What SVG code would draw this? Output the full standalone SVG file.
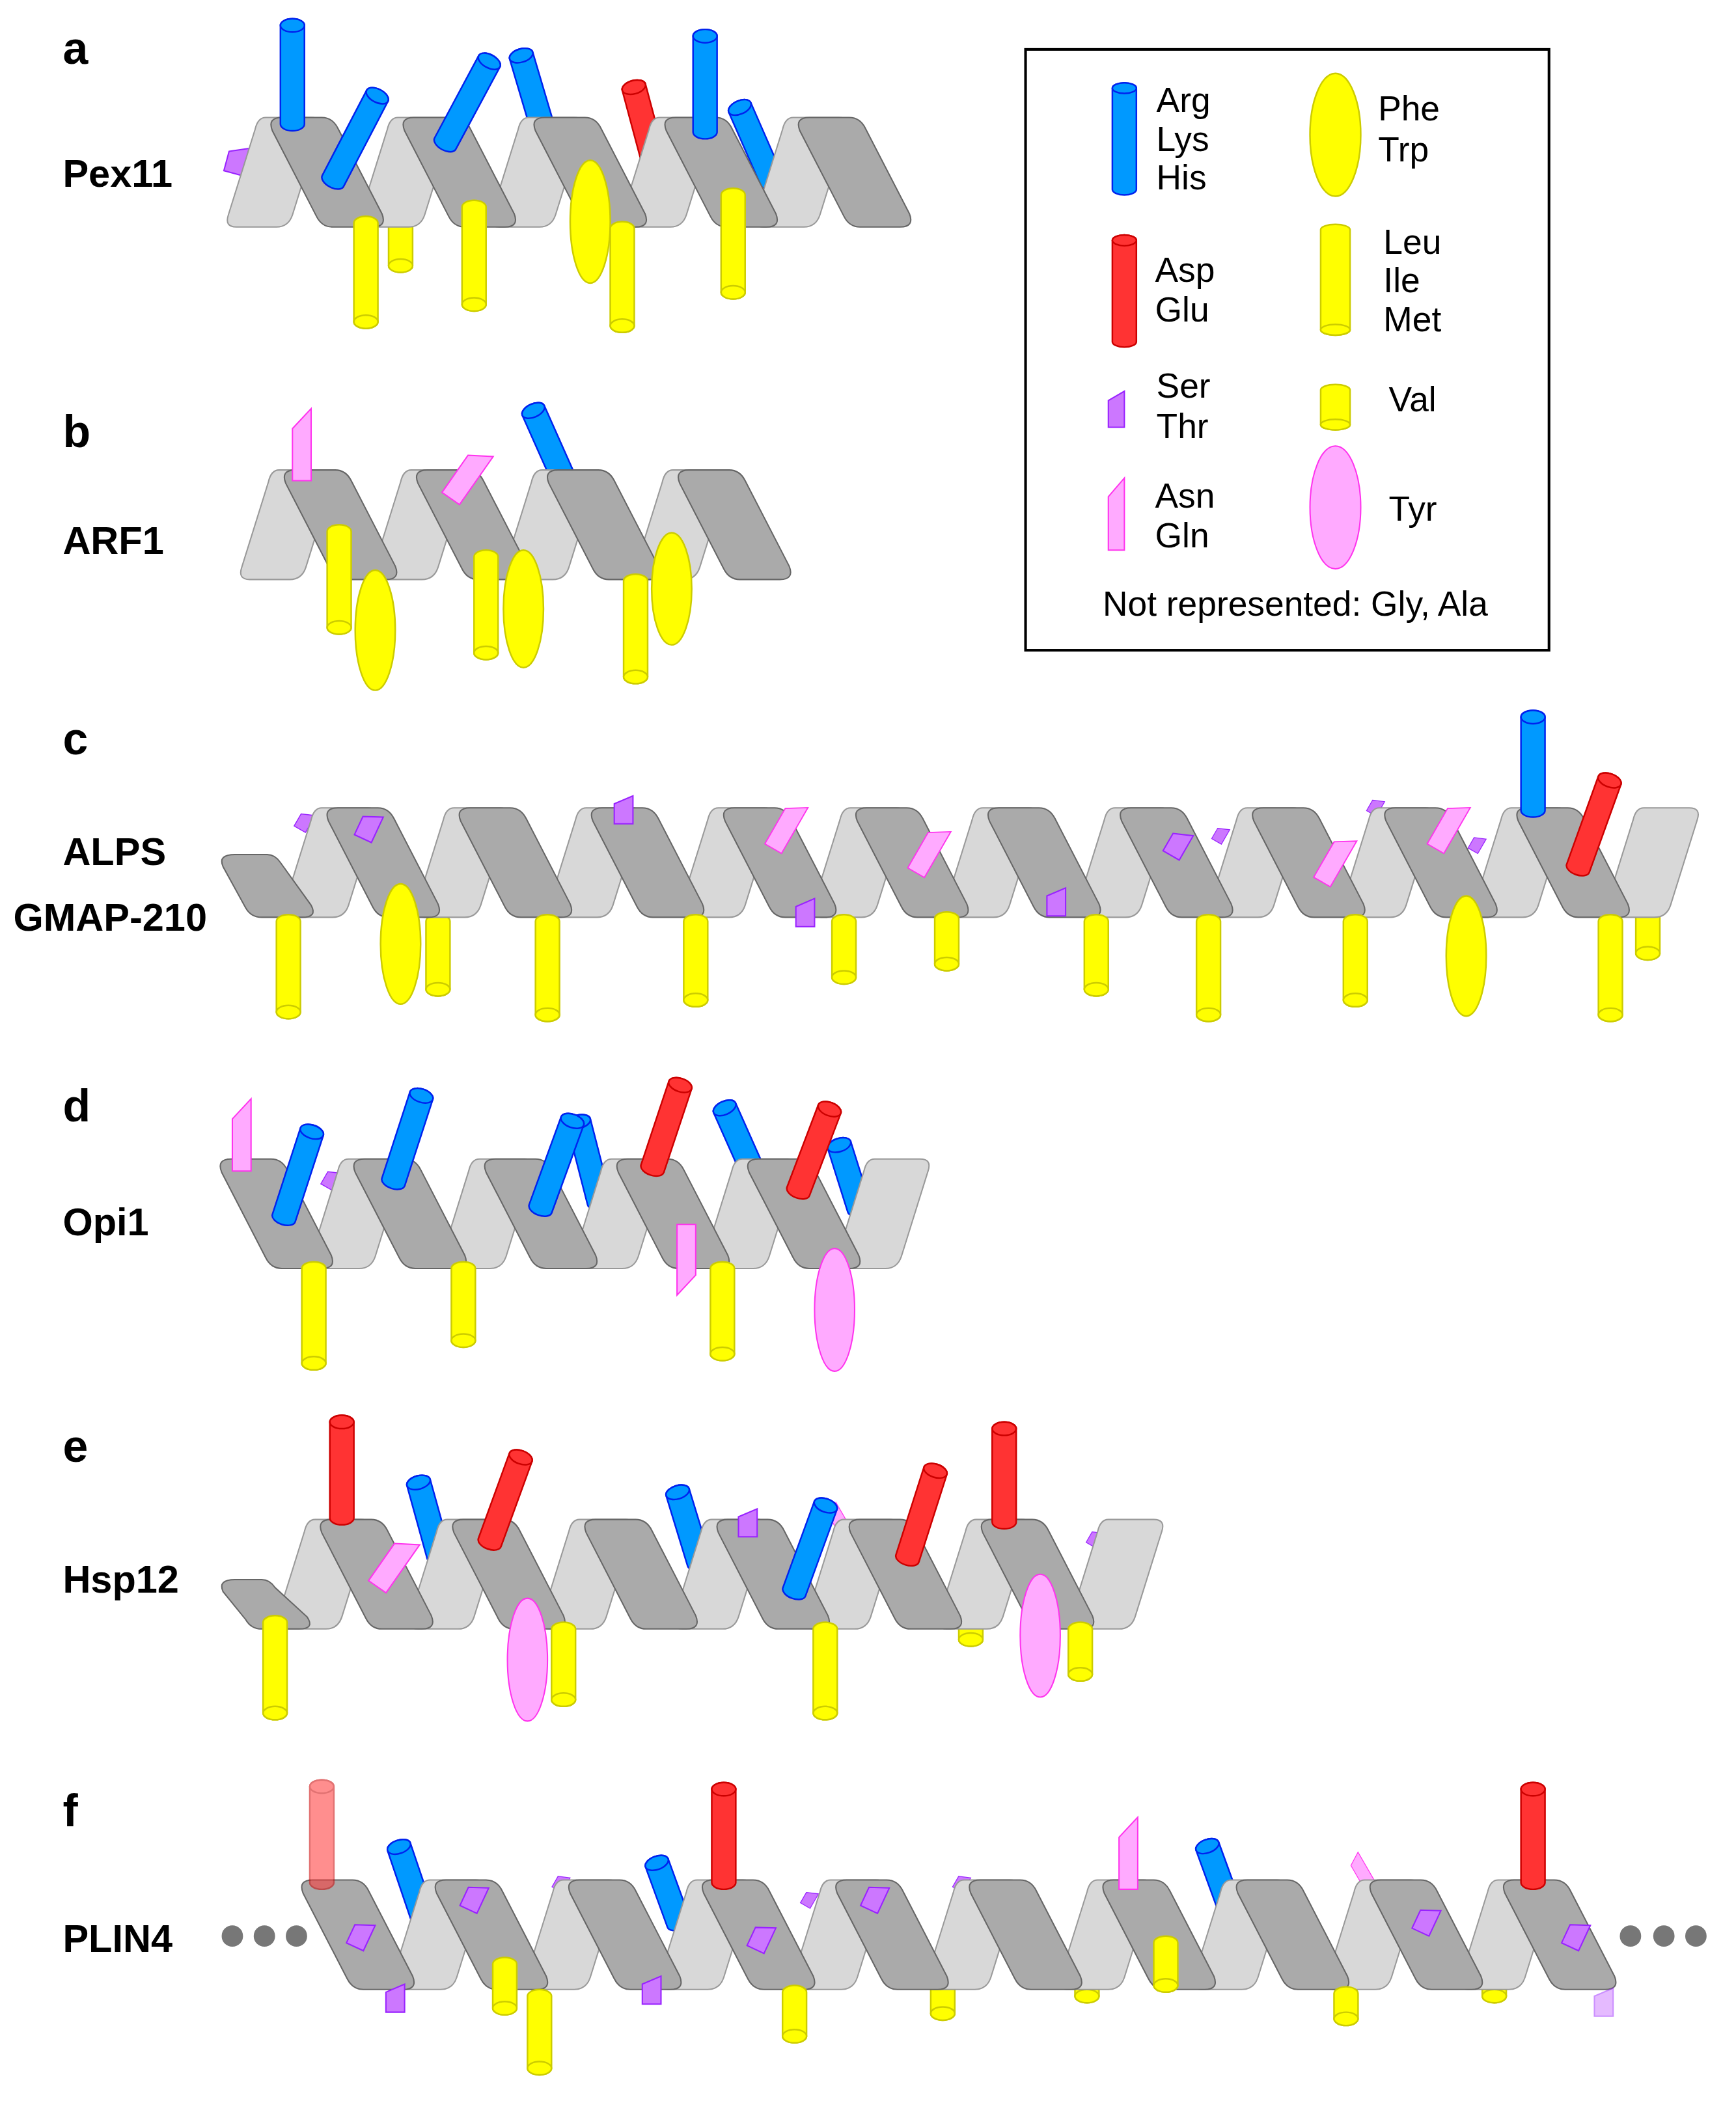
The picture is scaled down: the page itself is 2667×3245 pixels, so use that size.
<svg xmlns="http://www.w3.org/2000/svg" xmlns:xlink="http://www.w3.org/1999/xlink" width="2667" height="3245" viewBox="0 0 2667 3245">
<style>
.dk{fill:#aaaaaa;stroke:#666;stroke-width:1}
.lt{fill:#d8d8d8;stroke:#999;stroke-width:1}
.b{fill:#0099ff;stroke:#0022ee;stroke-width:1.2}
.r{fill:#ff3333;stroke:#cc0000;stroke-width:1.2}
.y{fill:#ffff00;stroke:#cccc00;stroke-width:1.2}
.p{fill:#cc77ff;stroke:#9922ff;stroke-width:1}
.k{fill:#ffaaff;stroke:#ff33ee;stroke-width:1}
.g{fill:#777}
.lbl{font-family:"Liberation Sans",Arial,sans-serif;font-weight:bold;font-size:29px;fill:#000}
.big{font-size:34px}
.leg{font-family:"Liberation Sans",Arial,sans-serif;font-size:26px;fill:#000}
</style>
<defs>
<path id="D" class="dk" d="M8,0 H38 Q46,0 50,8 L83,72 Q87,82 76,82 H46 Q38,82 34,74 L1,10 Q-3,0 8,0 Z"/>
<path id="L" class="lt" d="M-4,0 H30 Q39,0 36,9 L16,73 Q13,82 4,82 H-26 Q-35,82 -32,73 L-12,9 Q-10,0 -4,0 Z"/>
<path id="st" d="M-7,-5 L7,-11 L7,10 L-7,10 Z"/>
<path id="nq" d="M-7,-12 L7,-27 L7,27 L-7,27 Z"/>
<path id="pp" d="M-8,-14 L8,-24 L8,20 L-8,20 Z"/>
</defs>
<rect width="2667" height="3245" fill="#fff"/>
<g transform="scale(2.0515)">
<g id="labels">
<text class="lbl big" x="47" y="48">a</text><text class="lbl" x="47" y="140">Pex11</text>
<text class="lbl big" x="47" y="335">b</text><text class="lbl" x="47" y="415">ARF1</text>
<text class="lbl big" x="47" y="565">c</text><text class="lbl" x="47" y="648">ALPS</text><text class="lbl" x="10" y="697">GMAP-210</text>
<text class="lbl big" x="47" y="840">d</text><text class="lbl" x="47" y="925">Opi1</text>
<text class="lbl big" x="47" y="1095">e</text><text class="lbl" x="47" y="1193">Hsp12</text>
<text class="lbl big" x="47" y="1368">f</text><text class="lbl" x="47" y="1462">PLIN4</text>
</g>
<g id="legend">
<rect x="768" y="37" width="392" height="450" fill="none" stroke="#000" stroke-width="2"/>
<g class="b" transform="translate(842,146)"><rect x="-9" y="-84" width="18" height="84" rx="9" ry="4"/><ellipse cy="-80" rx="9" ry="4"/></g>
<text class="leg" x="866" y="84">Arg</text><text class="leg" x="866" y="113">Lys</text><text class="leg" x="866" y="142">His</text>
<g class="r" transform="translate(842,260)"><rect x="-9" y="-84" width="18" height="84" rx="9" ry="4"/><ellipse cy="-80" rx="9" ry="4"/></g>
<text class="leg" x="865" y="211">Asp</text><text class="leg" x="865" y="241">Glu</text>
<path class="p" d="M830,300 L842,293 L842,320 L830,320 Z"/>
<text class="leg" x="866" y="298">Ser</text><text class="leg" x="866" y="328">Thr</text>
<path class="k" d="M830,372 L842,358 L842,412 L830,412 Z"/>
<text class="leg" x="865" y="380">Asn</text><text class="leg" x="865" y="410">Gln</text>
<ellipse class="y" cx="1000" cy="101" rx="19" ry="46"/>
<text class="leg" x="1032" y="90">Phe</text><text class="leg" x="1032" y="121">Trp</text>
<g class="y" transform="translate(1000,168)"><rect x="-11" y="0" width="22" height="83" rx="11" ry="4"/><ellipse cy="79" rx="11" ry="4"/></g>
<text class="leg" x="1036" y="190">Leu</text><text class="leg" x="1036" y="219">Ile</text><text class="leg" x="1036" y="248">Met</text>
<g class="y" transform="translate(1000,288)"><rect x="-11" y="0" width="22" height="34" rx="11" ry="4"/><ellipse cy="30" rx="11" ry="4"/></g>
<text class="leg" x="1040" y="308">Val</text>
<ellipse class="k" cx="1000" cy="380" rx="19" ry="46"/>
<text class="leg" x="1040" y="390">Tyr</text>
<text class="leg" x="970" y="461" text-anchor="middle">Not represented: Gly, Ala</text>
</g>

<g id="panel-a">
<use href="#st" class="p" transform="translate(177,120) rotate(15)"/>
<g class="b" transform="translate(415,125) rotate(-16.5)"><rect x="-9" y="-92" width="18" height="92" rx="9" ry="5"/><ellipse cy="-87" rx="9" ry="5"/></g>
<g class="r" transform="translate(492,130) rotate(-15)"><rect x="-9" y="-72" width="18" height="72" rx="9" ry="5"/><ellipse cy="-67" rx="9" ry="5"/></g>
<g class="b" transform="translate(580,140) rotate(-23.6)"><rect x="-9" y="-70" width="18" height="70" rx="9" ry="5"/><ellipse cy="-65" rx="9" ry="5"/></g>
<g class="y" transform="translate(300,140)"><rect x="-9" y="0" width="18" height="64" rx="9" ry="5"/><ellipse cy="59" rx="9" ry="5"/></g>
<use href="#L" x="203" y="88"/><use href="#L" x="302" y="88"/><use href="#L" x="400" y="88"/><use href="#L" x="498" y="88"/><use href="#L" x="598" y="88"/>
<use href="#D" x="203" y="88"/><use href="#D" x="302" y="88"/><use href="#D" x="400" y="88"/><use href="#D" x="498" y="88"/><use href="#D" x="598" y="88"/>
<g class="b" transform="translate(219,98)"><rect x="-9" y="-84" width="18" height="84" rx="9" ry="5"/><ellipse cy="-79" rx="9" ry="5"/></g>
<g class="b" transform="translate(247,140) rotate(27.5)"><rect x="-9" y="-82" width="18" height="82" rx="9" ry="5"/><ellipse cy="-77" rx="9" ry="5"/></g>
<g class="b" transform="translate(331,112) rotate(28.2)"><rect x="-9" y="-80" width="18" height="80" rx="9" ry="5"/><ellipse cy="-75" rx="9" ry="5"/></g>
<g class="b" transform="translate(528,104)"><rect x="-9" y="-82" width="18" height="82" rx="9" ry="5"/><ellipse cy="-77" rx="9" ry="5"/></g>
<ellipse class="y" cx="442" cy="166" rx="15" ry="46"/>
<g class="y" transform="translate(274,162)"><rect x="-9" y="0" width="18" height="84" rx="9" ry="5"/><ellipse cy="79" rx="9" ry="5"/></g>
<g class="y" transform="translate(355,150)"><rect x="-9" y="0" width="18" height="83" rx="9" ry="5"/><ellipse cy="78" rx="9" ry="5"/></g>
<g class="y" transform="translate(466,166)"><rect x="-9" y="0" width="18" height="83" rx="9" ry="5"/><ellipse cy="78" rx="9" ry="5"/></g>
<g class="y" transform="translate(549,141)"><rect x="-9" y="0" width="18" height="83" rx="9" ry="5"/><ellipse cy="78" rx="9" ry="5"/></g>
</g>

<g id="panel-b">
<g class="b" transform="translate(425,365) rotate(-24)"><rect x="-9" y="-68" width="18" height="68" rx="9" ry="5"/><ellipse cy="-63" rx="9" ry="5"/></g>
<use href="#L" x="213" y="352"/><use href="#L" x="312" y="352"/><use href="#L" x="410" y="352"/><use href="#L" x="508" y="352"/>
<use href="#D" x="213" y="352"/><use href="#D" x="312" y="352"/><use href="#D" x="410" y="352"/><use href="#D" x="508" y="352"/>
<use href="#nq" class="k" transform="translate(226,333)"/>
<use href="#pp" class="k" transform="translate(349,357) rotate(35)"/>
<ellipse class="y" cx="392" cy="456" rx="15" ry="44"/>
<ellipse class="y" cx="503" cy="441" rx="15" ry="42"/>
<g class="y" transform="translate(254,393)"><rect x="-9" y="0" width="18" height="82" rx="9" ry="5"/><ellipse cy="77" rx="9" ry="5"/></g>
<g class="y" transform="translate(364,412)"><rect x="-9" y="0" width="18" height="82" rx="9" ry="5"/><ellipse cy="77" rx="9" ry="5"/></g>
<g class="y" transform="translate(476,430)"><rect x="-9" y="0" width="18" height="82" rx="9" ry="5"/><ellipse cy="77" rx="9" ry="5"/></g>
<ellipse class="y" cx="281" cy="472" rx="15" ry="45"/>
</g>

<g id="panel-c">
<use href="#st" class="p" transform="translate(228,615) rotate(30) scale(0.7)"/>
<use href="#st" class="p" transform="translate(914,625) rotate(30) scale(0.6)"/>
<use href="#st" class="p" transform="translate(1030,604) rotate(30) scale(0.6)"/>
<use href="#st" class="p" transform="translate(1106,632) rotate(30) scale(0.6)"/>
<g class="y" transform="translate(328,685)"><rect x="-9" y="0" width="18" height="61" rx="9" ry="5"/><ellipse cy="56" rx="9" ry="5"/></g>
<g class="y" transform="translate(1234,665)"><rect x="-9" y="0" width="18" height="54" rx="9" ry="5"/><ellipse cy="49" rx="9" ry="5"/></g>
<use href="#L" x="245" y="605"/><use href="#L" x="344" y="605"/><use href="#L" x="443" y="605"/><use href="#L" x="542" y="605"/><use href="#L" x="641" y="605"/><use href="#L" x="740" y="605"/><use href="#L" x="839" y="605"/><use href="#L" x="938" y="605"/><use href="#L" x="1037" y="605"/><use href="#L" x="1136" y="605"/><use href="#L" x="1235" y="605"/>
<path class="dk" d="M176,640 H200 Q206,640 210,646 L233,678 Q238,687 226,687 H196 Q188,687 184,680 L167,649 Q163,640 176,640 Z"/>
<use href="#D" x="245" y="605"/><use href="#D" x="344" y="605"/><use href="#D" x="443" y="605"/><use href="#D" x="542" y="605"/><use href="#D" x="641" y="605"/><use href="#D" x="740" y="605"/><use href="#D" x="839" y="605"/><use href="#D" x="938" y="605"/><use href="#D" x="1037" y="605"/><use href="#D" x="1136" y="605"/>
<use href="#st" class="p" transform="translate(276,619) rotate(25)"/>
<use href="#st" class="p" transform="translate(467,607)"/>
<use href="#st" class="p" transform="translate(603,684)"/>
<use href="#st" class="p" transform="translate(791,676)"/>
<use href="#st" class="p" transform="translate(882,632) rotate(30)"/>
<use href="#pp" class="k" transform="translate(588,620) rotate(30) scale(0.9)"/>
<use href="#pp" class="k" transform="translate(695,638) rotate(30) scale(0.9)"/>
<use href="#pp" class="k" transform="translate(999,645) rotate(30) scale(0.9)"/>
<use href="#pp" class="k" transform="translate(1084,620) rotate(30) scale(0.9)"/>
<g class="b" transform="translate(1148,612)"><rect x="-9" y="-80" width="18" height="80" rx="9" ry="5"/><ellipse cy="-75" rx="9" ry="5"/></g>
<g class="r" transform="translate(1180,655) rotate(19.8)"><rect x="-9" y="-80" width="18" height="80" rx="9" ry="5"/><ellipse cy="-75" rx="9" ry="5"/></g>
<g class="y" transform="translate(216,685)"><rect x="-9" y="0" width="18" height="78" rx="9" ry="5"/><ellipse cy="73" rx="9" ry="5"/></g>
<g class="y" transform="translate(410,685)"><rect x="-9" y="0" width="18" height="80" rx="9" ry="5"/><ellipse cy="75" rx="9" ry="5"/></g>
<g class="y" transform="translate(521,685)"><rect x="-9" y="0" width="18" height="69" rx="9" ry="5"/><ellipse cy="64" rx="9" ry="5"/></g>
<g class="y" transform="translate(632,685)"><rect x="-9" y="0" width="18" height="52" rx="9" ry="5"/><ellipse cy="47" rx="9" ry="5"/></g>
<g class="y" transform="translate(709,683)"><rect x="-9" y="0" width="18" height="44" rx="9" ry="5"/><ellipse cy="39" rx="9" ry="5"/></g>
<g class="y" transform="translate(821,685)"><rect x="-9" y="0" width="18" height="61" rx="9" ry="5"/><ellipse cy="56" rx="9" ry="5"/></g>
<g class="y" transform="translate(905,685)"><rect x="-9" y="0" width="18" height="80" rx="9" ry="5"/><ellipse cy="75" rx="9" ry="5"/></g>
<g class="y" transform="translate(1015,685)"><rect x="-9" y="0" width="18" height="69" rx="9" ry="5"/><ellipse cy="64" rx="9" ry="5"/></g>
<g class="y" transform="translate(1206,685)"><rect x="-9" y="0" width="18" height="80" rx="9" ry="5"/><ellipse cy="75" rx="9" ry="5"/></g>
<ellipse class="y" cx="300" cy="707" rx="15" ry="45"/>
<ellipse class="y" cx="1098" cy="716" rx="15" ry="45"/>
</g>

<g id="panel-d">
<use href="#st" class="p" transform="translate(248,883) rotate(30) scale(0.7)"/>
<g class="b" transform="translate(450,905) rotate(-14.4)"><rect x="-9" y="-72" width="18" height="72" rx="9" ry="5"/><ellipse cy="-67" rx="9" ry="5"/></g>
<g class="b" transform="translate(565,880) rotate(-24)"><rect x="-9" y="-60" width="18" height="60" rx="9" ry="5"/><ellipse cy="-55" rx="9" ry="5"/></g>
<g class="b" transform="translate(645,910) rotate(-17.5)"><rect x="-9" y="-60" width="18" height="60" rx="9" ry="5"/><ellipse cy="-55" rx="9" ry="5"/></g>
<use href="#L" x="265" y="868"/><use href="#L" x="363" y="868"/><use href="#L" x="462" y="868"/><use href="#L" x="560" y="868"/><use href="#L" x="659" y="868"/>
<use href="#D" x="165" y="868"/><use href="#D" x="265" y="868"/><use href="#D" x="363" y="868"/><use href="#D" x="462" y="868"/><use href="#D" x="560" y="868"/>
<use href="#nq" class="k" transform="translate(181,850)"/>
<g class="b" transform="translate(211,917) rotate(18)"><rect x="-9" y="-78" width="18" height="78" rx="9" ry="5"/><ellipse cy="-73" rx="9" ry="5"/></g>
<g class="b" transform="translate(293,890) rotate(18)"><rect x="-9" y="-78" width="18" height="78" rx="9" ry="5"/><ellipse cy="-73" rx="9" ry="5"/></g>
<g class="b" transform="translate(403,910) rotate(20)"><rect x="-9" y="-80" width="18" height="80" rx="9" ry="5"/><ellipse cy="-75" rx="9" ry="5"/></g>
<g class="r" transform="translate(487,880) rotate(18.4)"><rect x="-9" y="-76" width="18" height="76" rx="9" ry="5"/><ellipse cy="-71" rx="9" ry="5"/></g>
<g class="r" transform="translate(596,897) rotate(20.8)"><rect x="-9" y="-76" width="18" height="76" rx="9" ry="5"/><ellipse cy="-71" rx="9" ry="5"/></g>
<g class="y" transform="translate(235,945)"><rect x="-9" y="0" width="18" height="81" rx="9" ry="5"/><ellipse cy="76" rx="9" ry="5"/></g>
<g class="y" transform="translate(347,945)"><rect x="-9" y="0" width="18" height="64" rx="9" ry="5"/><ellipse cy="59" rx="9" ry="5"/></g>
<g class="y" transform="translate(541,945)"><rect x="-9" y="0" width="18" height="74" rx="9" ry="5"/><ellipse cy="69" rx="9" ry="5"/></g>
<path class="k" d="M507,917 L521,917 L521,955 L507,970 Z"/>
<ellipse class="k" cx="625" cy="981" rx="15" ry="46"/>
</g>

<g id="panel-e">
<g class="b" transform="translate(330,1170) rotate(-15.5)"><rect x="-9" y="-67" width="18" height="67" rx="9" ry="5"/><ellipse cy="-62" rx="9" ry="5"/></g>
<g class="b" transform="translate(525,1175) rotate(-17)"><rect x="-9" y="-65" width="18" height="65" rx="9" ry="5"/><ellipse cy="-60" rx="9" ry="5"/></g>
<use href="#pp" class="k" transform="translate(629,1140) rotate(-30) scale(0.6)"/>
<use href="#st" class="p" transform="translate(820,1152) rotate(30) scale(0.6)"/>
<g class="y" transform="translate(727,1205)"><rect x="-9" y="0" width="18" height="28" rx="9" ry="5"/><ellipse cy="23" rx="9" ry="5"/></g>
<use href="#L" x="240" y="1138"/><use href="#L" x="339" y="1138"/><use href="#L" x="438" y="1138"/><use href="#L" x="537" y="1138"/><use href="#L" x="636" y="1138"/><use href="#L" x="735" y="1138"/><use href="#L" x="834" y="1138"/>
<path class="dk" d="M176,1183 H196 Q202,1183 206,1189 L230,1211 Q236,1220 224,1220 H196 Q188,1220 184,1213 L167,1192 Q163,1183 176,1183 Z"/>
<use href="#D" x="240" y="1138"/><use href="#D" x="339" y="1138"/><use href="#D" x="438" y="1138"/><use href="#D" x="537" y="1138"/><use href="#D" x="636" y="1138"/><use href="#D" x="735" y="1138"/>
<g class="r" transform="translate(256,1142)"><rect x="-9" y="-82" width="18" height="82" rx="9" ry="5"/><ellipse cy="-77" rx="9" ry="5"/></g>
<use href="#pp" class="k" transform="translate(294,1172) rotate(35)"/>
<g class="r" transform="translate(365,1160) rotate(20)"><rect x="-9" y="-78" width="18" height="78" rx="9" ry="5"/><ellipse cy="-73" rx="9" ry="5"/></g>
<use href="#st" class="p" transform="translate(560,1141)"/>
<g class="b" transform="translate(593,1197) rotate(20)"><rect x="-9" y="-79" width="18" height="79" rx="9" ry="5"/><ellipse cy="-74" rx="9" ry="5"/></g>
<g class="r" transform="translate(678,1172) rotate(17.7)"><rect x="-9" y="-79" width="18" height="79" rx="9" ry="5"/><ellipse cy="-74" rx="9" ry="5"/></g>
<g class="r" transform="translate(752,1145)"><rect x="-9" y="-80" width="18" height="80" rx="9" ry="5"/><ellipse cy="-75" rx="9" ry="5"/></g>
<g class="y" transform="translate(206,1210)"><rect x="-9" y="0" width="18" height="78" rx="9" ry="5"/><ellipse cy="73" rx="9" ry="5"/></g>
<g class="y" transform="translate(422,1215)"><rect x="-9" y="0" width="18" height="63" rx="9" ry="5"/><ellipse cy="58" rx="9" ry="5"/></g>
<g class="y" transform="translate(618,1215)"><rect x="-9" y="0" width="18" height="73" rx="9" ry="5"/><ellipse cy="68" rx="9" ry="5"/></g>
<g class="y" transform="translate(809,1215)"><rect x="-9" y="0" width="18" height="44" rx="9" ry="5"/><ellipse cy="39" rx="9" ry="5"/></g>
<ellipse class="k" cx="395" cy="1243" rx="15" ry="46"/>
<ellipse class="k" cx="779" cy="1225" rx="15" ry="46"/>
</g>

<g id="panel-f">
<g class="b" transform="translate(318,1440) rotate(-18.7)"><rect x="-9" y="-65" width="18" height="65" rx="9" ry="5"/><ellipse cy="-60" rx="9" ry="5"/></g>
<g class="b" transform="translate(510,1445) rotate(-20)"><rect x="-9" y="-58" width="18" height="58" rx="9" ry="5"/><ellipse cy="-53" rx="9" ry="5"/></g>
<g class="b" transform="translate(925,1440) rotate(-20)"><rect x="-9" y="-66" width="18" height="66" rx="9" ry="5"/><ellipse cy="-61" rx="9" ry="5"/></g>
<use href="#st" class="p" transform="translate(420,1410) rotate(30) scale(0.6)"/>
<use href="#st" class="p" transform="translate(606,1422) rotate(30) scale(0.6)"/>
<use href="#st" class="p" transform="translate(720,1410) rotate(30) scale(0.6)"/>
<use href="#pp" class="k" transform="translate(1020,1402) rotate(-30) scale(0.6)"/>
<g class="y" transform="translate(706,1485)"><rect x="-9" y="0" width="18" height="28" rx="9" ry="5"/><ellipse cy="23" rx="9" ry="5"/></g>
<g class="y" transform="translate(814,1485)"><rect x="-9" y="0" width="18" height="15" rx="9" ry="5"/><ellipse cy="10" rx="9" ry="5"/></g>
<g class="y" transform="translate(1119,1485)"><rect x="-9" y="0" width="18" height="15" rx="9" ry="5"/><ellipse cy="10" rx="9" ry="5"/></g>
<use href="#L" x="326" y="1408"/><use href="#L" x="426" y="1408"/><use href="#L" x="526" y="1408"/><use href="#L" x="626" y="1408"/><use href="#L" x="726" y="1408"/><use href="#L" x="826" y="1408"/><use href="#L" x="926" y="1408"/><use href="#L" x="1026" y="1408"/><use href="#L" x="1126" y="1408"/>
<use href="#D" x="226" y="1408"/><use href="#D" x="326" y="1408"/><use href="#D" x="426" y="1408"/><use href="#D" x="526" y="1408"/><use href="#D" x="626" y="1408"/><use href="#D" x="726" y="1408"/><use href="#D" x="826" y="1408"/><use href="#D" x="926" y="1408"/><use href="#D" x="1026" y="1408"/><use href="#D" x="1126" y="1408"/>
<g class="r" opacity="0.55" transform="translate(241,1415)"><rect x="-9" y="-82" width="18" height="82" rx="9" ry="5"/><ellipse cy="-77" rx="9" ry="5"/></g>
<g class="r" transform="translate(542,1415)"><rect x="-9" y="-80" width="18" height="80" rx="9" ry="5"/><ellipse cy="-75" rx="9" ry="5"/></g>
<g class="r" transform="translate(1148,1415)"><rect x="-9" y="-80" width="18" height="80" rx="9" ry="5"/><ellipse cy="-75" rx="9" ry="5"/></g>
<use href="#nq" class="k" transform="translate(845,1388)"/>
<use href="#st" class="p" transform="translate(270,1449) rotate(25)"/>
<use href="#st" class="p" transform="translate(355,1421) rotate(25)"/>
<use href="#st" class="p" transform="translate(296,1497)"/>
<use href="#st" class="p" transform="translate(488,1491)"/>
<use href="#st" class="p" transform="translate(570,1451) rotate(25)"/>
<use href="#st" class="p" transform="translate(655,1421) rotate(25)"/>
<use href="#st" class="p" transform="translate(1068,1438) rotate(25)"/>
<use href="#st" class="p" transform="translate(1180,1449) rotate(25)"/>
<use href="#st" class="p" opacity="0.5" transform="translate(1201,1500)"/>
<g class="y" transform="translate(378,1466)"><rect x="-9" y="0" width="18" height="43" rx="9" ry="5"/><ellipse cy="38" rx="9" ry="5"/></g>
<g class="y" transform="translate(404,1490)"><rect x="-9" y="0" width="18" height="64" rx="9" ry="5"/><ellipse cy="59" rx="9" ry="5"/></g>
<g class="y" transform="translate(595,1487)"><rect x="-9" y="0" width="18" height="43" rx="9" ry="5"/><ellipse cy="38" rx="9" ry="5"/></g>
<g class="y" transform="translate(873,1450)"><rect x="-9" y="0" width="18" height="42" rx="9" ry="5"/><ellipse cy="37" rx="9" ry="5"/></g>
<g class="y" transform="translate(1008,1488)"><rect x="-9" y="0" width="18" height="29" rx="9" ry="5"/><ellipse cy="24" rx="9" ry="5"/></g>
<circle class="g" cx="174" cy="1450" r="8"/><circle class="g" cx="198" cy="1450" r="8"/><circle class="g" cx="222" cy="1450" r="8"/>
<circle class="g" cx="1221" cy="1450" r="8"/><circle class="g" cx="1246" cy="1450" r="8"/><circle class="g" cx="1270" cy="1450" r="8"/>
</g>
</g>
</svg>
